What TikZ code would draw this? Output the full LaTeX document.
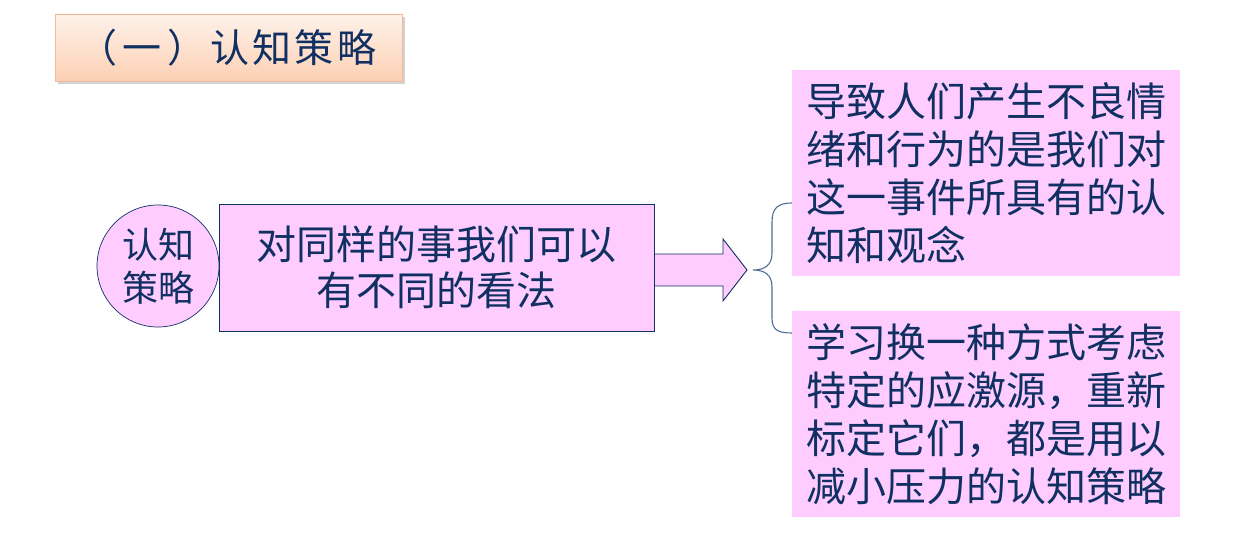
\documentclass[tikz,border=0pt]{standalone}
\usepackage{fontspec}
\setmainfont{Noto Sans CJK SC}
\usetikzlibrary{shadows,calc}
\definecolor{navy}{RGB}{16,48,98}
\definecolor{pinkfill}{RGB}{255,204,255}
\definecolor{peachtop}{RGB}{255,242,234}
\definecolor{peachbot}{RGB}{252,208,180}
\definecolor{peachline}{RGB}{240,185,160}
\definecolor{bracecol}{RGB}{80,110,150}
\tikzset{
  titlebox/.style={draw=peachline, line width=0.8pt, top color=peachtop, bottom color=peachbot,
    drop shadow={shadow xshift=3pt, shadow yshift=-3pt, opacity=0.35},
    minimum width=347pt, minimum height=67pt, inner sep=0pt},
  titletext/.style={text=navy, inner sep=0pt, font=\fontsize{39}{44}\selectfont},
  pinkbox/.style={fill=pinkfill, minimum width=388pt, minimum height=206pt, inner sep=0pt,
    text=navy, align=left, font=\fontsize{40}{48}\selectfont},
  mainbox/.style={draw=navy, line width=0.9pt, fill=pinkfill, minimum width=435pt, minimum height=127pt,
    inner sep=0pt, text=navy, align=center, font=\fontsize{40}{46}\selectfont},
  circbox/.style={draw=navy, line width=0.7pt, fill=pinkfill, circle, minimum size=122pt,
    inner sep=0pt, text=navy, align=center, font=\fontsize{36}{43}\selectfont},
  blockarrow/.style={draw=navy, line width=0.9pt, fill=pinkfill, line join=miter},
  bracestyle/.style={draw=bracecol, line width=1.1pt}
}
\begin{document}
\begin{tikzpicture}[x=1pt,y=-1pt]
\useasboundingbox (0,0) rectangle (1247,545);
\node[titlebox] (title) at (228.5,47.5) {};
\node[titletext] (titlelabel) at (227,48) {（\hspace{6pt}一\hspace{6pt}）\hspace{4pt}认\hspace{3pt}知\hspace{3pt}策\hspace{3pt}略};
\node[mainbox] (main) at (436.5,267.5) {对同样的事我们可以\\有不同的看法};
\node[circbox] (circ) at (158,266) {认知\\策略};
\node[pinkbox] (top) at (986,173) {导致人们产生不良情\\绪和行为的是我们对\\这一事件所具有的认\\知和观念};
\node[pinkbox] (bot) at (986,414) {学习换一种方式考虑\\特定的应激源，重新\\标定它们，都是用以\\减小压力的认知策略};
% block arrow
\coordinate (aS) at ($(main.east |- 0,254)$);
\coordinate (aE) at ($(main.east |- 0,286)$);
\coordinate (tip) at (747,270);
\draw[blockarrow] (aS) -- (723,254) -- (723,239) -- (tip) -- (723,301) -- (723,286) -- (aE);
\draw[navy, line width=0.9pt] (main.north east) -- (main.south east);
% brace
\coordinate (bTop) at (top.west |- 0,203);
\coordinate (bBot) at (bot.west |- 0,333);
\coordinate (bTip) at (753,270);
\draw[bracestyle] (bTop) .. controls (778,203) and (772,208) .. (772,222) -- (772,253)
  .. controls (772,265) and (765,270) .. (bTip)
  .. controls (765,270) and (772,275) .. (772,287) -- (772,318)
  .. controls (772,330) and (778,333) .. (bBot);
\end{tikzpicture}
\end{document}
